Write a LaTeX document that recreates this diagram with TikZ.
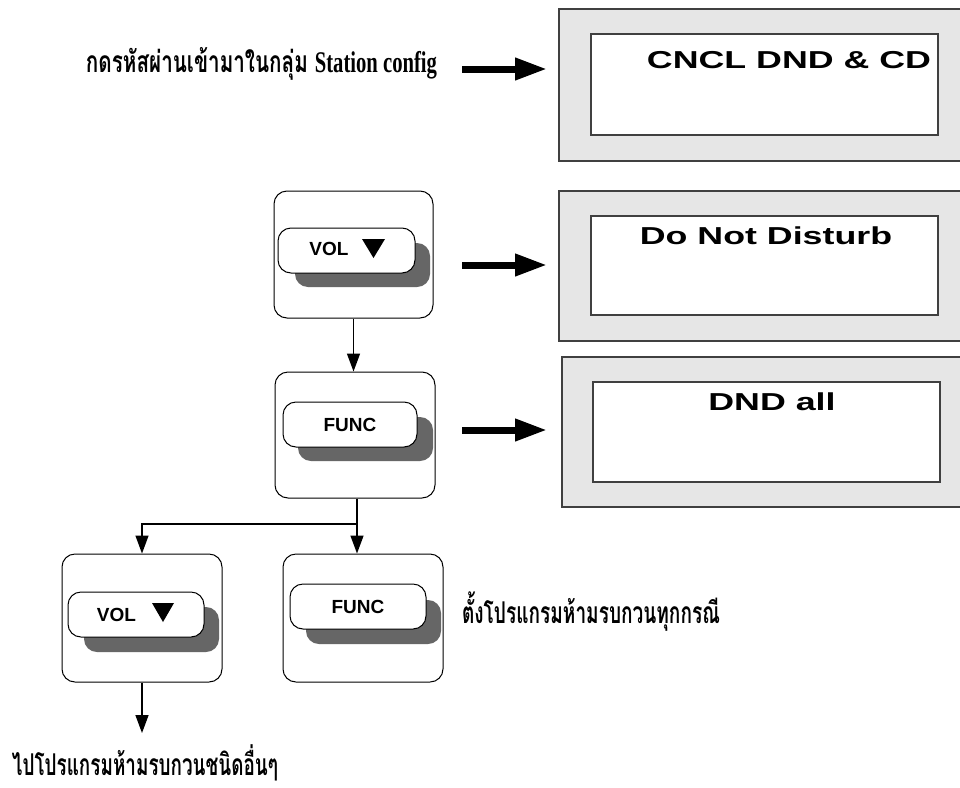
\documentclass[tikz,border=0pt]{standalone}
\usepackage{fontspec}
\usepackage{graphicx}
\setmainfont{Liberation Sans}
\newfontfamily\thaifont[Script=Thai]{Loma}
\newfontfamily\serifb{Liberation Serif}
\usetikzlibrary{arrows.meta}
\definecolor{lcdgray}{HTML}{E6E6E6}
\definecolor{shadowgray}{HTML}{666666}
\definecolor{edgegray}{HTML}{404040}
\begin{document}
\begin{tikzpicture}[x=1pt,y=-1pt,
 keybox/.style={draw=black, line width=1pt, rounded corners=13pt, fill=white, inner sep=0pt},
 btn/.style={draw=black, line width=1pt, rounded corners=13pt, fill=white, inner sep=0pt},
 shade/.style={fill=shadowgray, rounded corners=13pt, inner sep=0pt},
 btntext/.style={font=\bfseries\fontsize{19}{19}\selectfont, inner sep=0pt},
 lcdout/.style={draw=edgegray, line width=1.2pt, fill=lcdgray, inner sep=0pt},
 lcdin/.style={draw=edgegray, line width=1.2pt, fill=white, inner sep=0pt},
 lcdtext/.style={font=\bfseries\fontsize{24.5}{24.5}\selectfont, inner sep=0pt},
 big/.style={line width=7pt, -{Triangle[length=32pt,width=21pt]}},
 thin/.style={line width=1.5pt, -{Triangle[length=18pt,width=13pt]}},
 thai/.style={font=\thaifont\bfseries\fontsize{30}{30}\selectfont, inner sep=0pt, anchor=base}
]
\useasboundingbox (0,0) rectangle (960,787);
\clip (0,0) rectangle (960,787);
\fill[white] (0,0) rectangle (960,787);

% displays
\node[lcdout, minimum width=407pt, minimum height=152pt] (d1) at (762.5,85) {};
\node[lcdin, minimum width=347pt, minimum height=101pt] (d1i) at (764.5,84.5) {};
\node[lcdtext] (d1t) at (789,60.5) {\scalebox{1.46}[1]{CNCL DND \& CD}};

\node[lcdout, minimum width=407pt, minimum height=150pt] (d2) at (762.5,266) {};
\node[lcdin, minimum width=347pt, minimum height=99pt] (d2i) at (764.5,265.5) {};
\node[lcdtext] (d2t) at (766,236) {\scalebox{1.46}[1]{Do Not Disturb}};

\node[lcdout, minimum width=404pt, minimum height=150pt] (d3) at (764,432) {};
\node[lcdin, minimum width=347pt, minimum height=100pt] (d3i) at (766.5,432) {};
\node[lcdtext] (d3t) at (772,402) {\scalebox{1.46}[1]{DND all}};

% keys
\node[keybox, minimum width=159pt, minimum height=127pt] (k1) at (353.5,254.5) {};
\node[shade, minimum width=135pt, minimum height=44pt] (k1s) at (362.5,265) {};
\node[btn, minimum width=137pt, minimum height=45pt] (k1b) at (346.5,250.5) {};
\node[btntext] (k1t) at (329,248.5) {VOL};
\fill (362,239) -- (385,239) -- (373.5,258) -- cycle;

\node[keybox, minimum width=160pt, minimum height=126pt] (k2) at (355,435) {};
\node[shade, minimum width=135pt, minimum height=44pt] (k2s) at (365.5,439) {};
\node[btn, minimum width=134pt, minimum height=45pt] (k2b) at (350,424.5) {};
\node[btntext] (k2t) at (350,425) {FUNC};

\node[keybox, minimum width=160pt, minimum height=128pt] (k3) at (142,618) {};
\node[shade, minimum width=135pt, minimum height=45pt] (k3s) at (151.5,629.5) {};
\node[btn, minimum width=136pt, minimum height=45pt] (k3b) at (136,614.5) {};
\node[btntext] (k3t) at (116.5,614.5) {VOL};
\fill (152,603) -- (174,603) -- (163,622) -- cycle;

\node[keybox, minimum width=160pt, minimum height=128pt] (k4) at (363,618) {};
\node[shade, minimum width=135pt, minimum height=44pt] (k4s) at (373.5,622) {};
\node[btn, minimum width=136pt, minimum height=45pt] (k4b) at (358,606.5) {};
\node[btntext] (k4t) at (358,607) {FUNC};

% thai texts
\node[thai] (t1) at (261.5,72) {\resizebox{351pt}{\height}{กดรหัสผ่านเข้ามาในกลุ่ม {\serifb\bfseries Station config}}};
\node[thai] (t2) at (591,623) {\resizebox{258pt}{\height}{ตั้งโปรแกรมห้ามรบกวนทุกกรณี}};
\node[thai] (t3) at (145,775) {\resizebox{266pt}{\height}{ไปโปรแกรมห้ามรบกวนชนิดอื่นๆ}};

% big arrows
\coordinate (a1s) at (462,69);  \coordinate (a1e) at (547,69);
\coordinate (a2s) at (462,265); \coordinate (a2e) at (547,265);
\coordinate (a3s) at (462,430); \coordinate (a3e) at (547,430);
\draw[big] (a1s) -- (a1e);
\draw[big] (a2s) -- (a2e);
\draw[big] (a3s) -- (a3e);

% thin connectors
\draw[thin] (k1.south) -- (k1.south |- k2.north);
\coordinate (jn) at (357,524);
\draw[thin] (k2.south -| jn) -- (jn |- k4.north);
\draw[thin] (jn) -| (k3.north);
\coordinate (end3) at (142,733);
\draw[thin] (k3.south) -- (end3);
\end{tikzpicture}
\end{document}
